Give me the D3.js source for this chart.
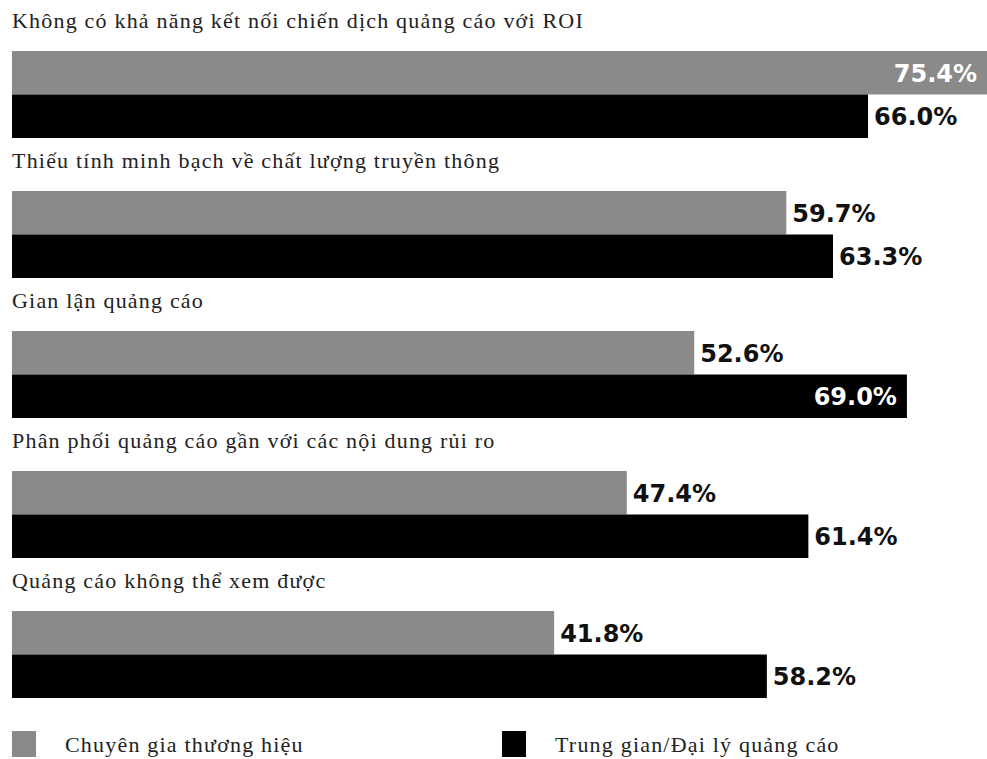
<!DOCTYPE html>
<html>
<head>
<meta charset="utf-8">
<script src="https://cdn.jsdelivr.net/npm/d3@7"></script>
<style>
  html, body { margin: 0; padding: 0; background: #fff; }
  svg { display: block; }
</style>
</head>
<body>
<svg id="chart" width="987" height="759"></svg>
<script>
// Survey issues (Vietnamese) and share of respondents per group
const categories = [
  "Không có khả năng kết nối chiến dịch quảng cáo với ROI",
  "Thiếu tính minh bạch về chất lượng truyền thông",
  "Gian lận quảng cáo",
  "Phân phối quảng cáo gần với các nội dung rủi ro",
  "Quảng cáo không thể xem được"
];
const seriesNames = ["Chuyên gia thương hiệu", "Trung gian/Đại lý quảng cáo"];
const brandValues = [75.4, 59.7, 52.6, 47.4, 41.8];
const agencyValues = [66.0, 63.3, 69.0, 61.4, 58.2];
const seriesColors = ["#8a8a8a", "#000000"];

const svg = d3.select("#chart");
const W = 987;
const serif = "'Liberation Serif', 'Times New Roman', serif";

const x = d3.scaleLinear().domain([0, 100]).range([12, 12 + 100 * 12.97]);
const y = d3.scaleBand().domain(categories).range([51, 751]).paddingInner(0).paddingOuter(0);
const barH = 43.5;

const rows = categories.map((c, i) => ({ cat: c, vals: [brandValues[i], agencyValues[i]] }));

const g = svg.selectAll("g.group").data(rows).join("g")
  .attr("class", "group")
  .attr("transform", d => `translate(0,${y(d.cat)})`);

// Category title above each pair of bars
g.append("text")
  .attr("x", 12)
  .attr("y", -23)
  .attr("font-family", serif)
  .attr("font-size", 22)
  .attr("letter-spacing", 1.2)
  .attr("fill", "#222")
  .text(d => d.cat);

const bars = g.selectAll("g.bar").data(d => d.vals.map((v, k) => ({ v, k }))).join("g")
  .attr("class", "bar");

bars.append("rect")
  .attr("x", x(0))
  .attr("y", d => d.k * barH)
  .attr("width", d => Math.min(x(d.v), W) - x(0))
  .attr("height", barH)
  .attr("fill", d => seriesColors[d.k]);

// Value labels: inside the bar (white) when the bar runs too far right, else just past its end
bars.append("text")
  .attr("font-family", "'DejaVu Sans', sans-serif")
  .attr("font-weight", "bold")
  .attr("font-size", 24)
  .attr("y", d => d.k * barH + barH / 2 + 9)
  .each(function(d) {
    const end = x(d.v);
    const inside = end + 95 > W;
    const t = d3.select(this);
    if (inside) {
      t.attr("x", Math.min(end, W) - 10).attr("text-anchor", "end").attr("fill", "#fff");
    } else {
      t.attr("x", end + 6).attr("text-anchor", "start").attr("fill", "#111");
    }
  })
  .text(d => d.v.toFixed(1) + "%");

// Legend
const legendX = [12, 502];
const lg = svg.selectAll("g.legend").data(seriesNames).join("g")
  .attr("class", "legend")
  .attr("transform", (d, i) => `translate(${legendX[i]},731)`);
lg.append("rect")
  .attr("width", 24).attr("height", 26)
  .attr("fill", (d, i) => seriesColors[i]);
lg.append("text")
  .attr("x", 53)
  .attr("y", 21)
  .attr("font-family", serif)
  .attr("font-size", 22)
  .attr("letter-spacing", 1.2)
  .attr("fill", "#222")
  .text(d => d);
</script>
</body>
</html>
